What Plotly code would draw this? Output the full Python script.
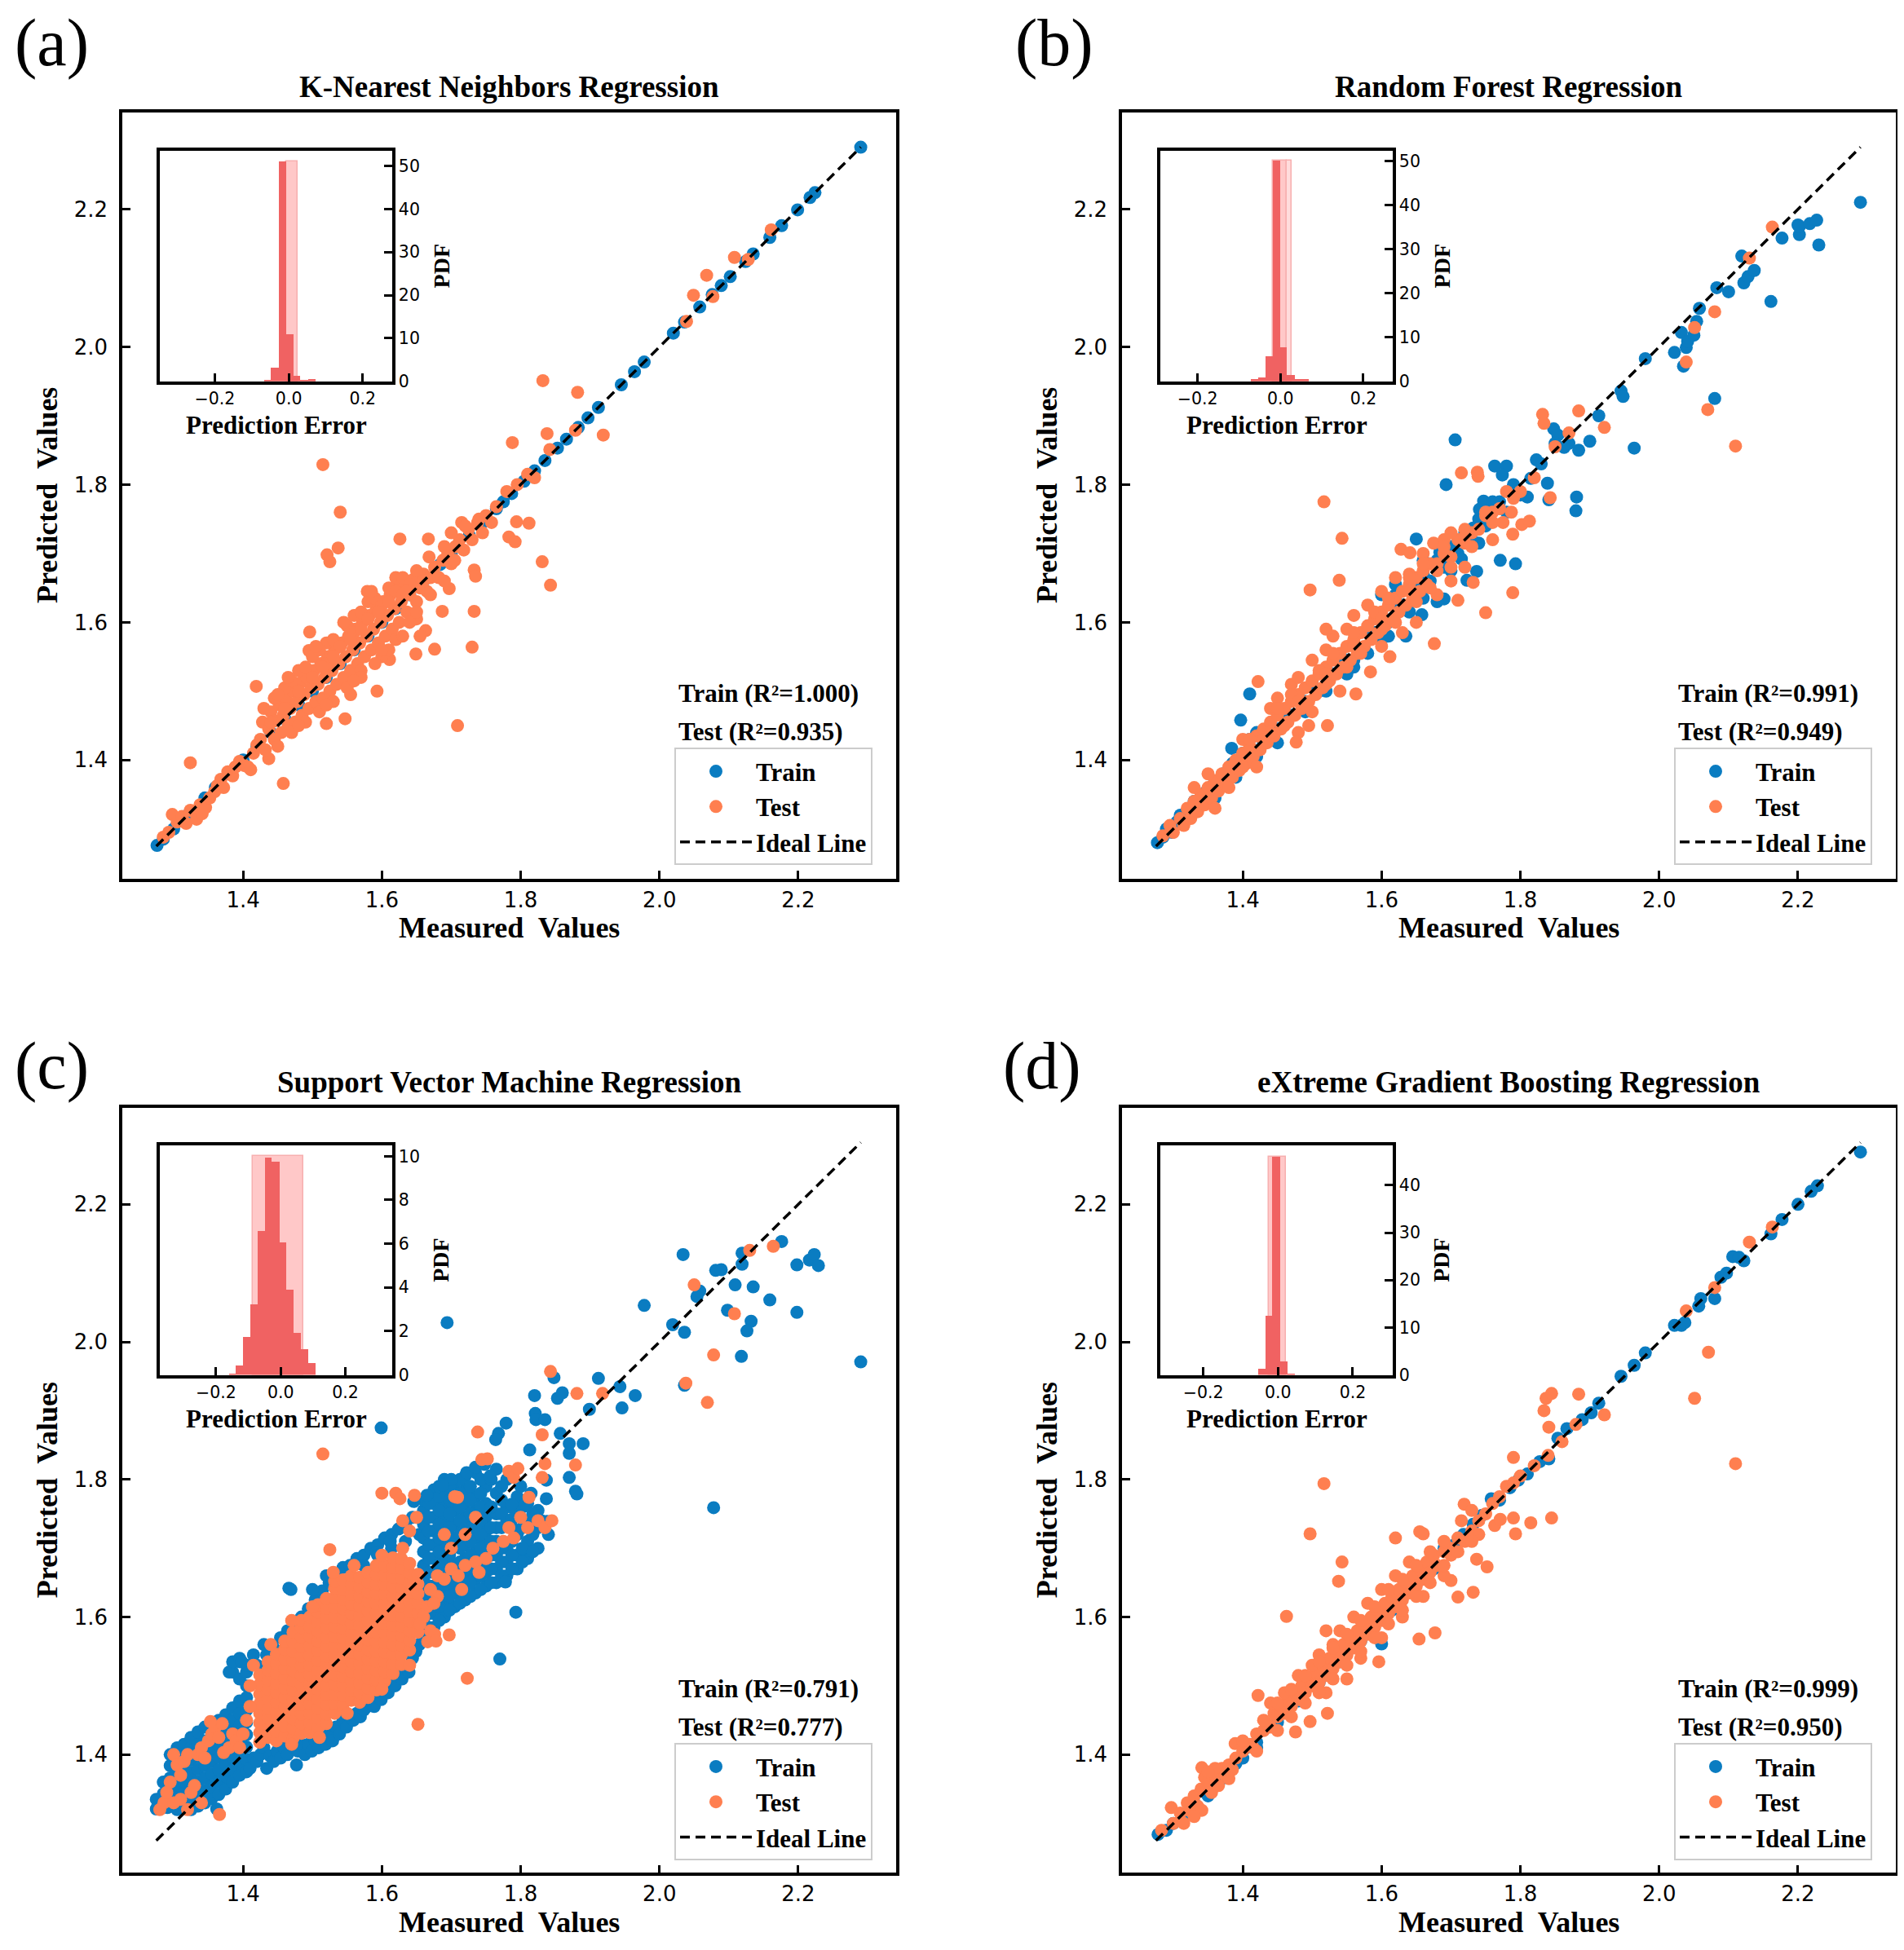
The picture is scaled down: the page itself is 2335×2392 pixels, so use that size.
import plotly.graph_objects as go

W, H = 2335, 2392

# ---------------- data: (measured, predicted) ----------------
knn_train_points = [(1.276,1.276),(1.285,1.285),(1.30,1.30),(1.32,1.32),(1.345,1.345),(1.36,1.36),(1.38,1.38),(1.40,1.40),
    (1.42,1.42),(1.44,1.44),(1.46,1.46),(1.48,1.48),(1.50,1.50),(1.52,1.52),(1.54,1.54),(1.56,1.56),(1.58,1.58),(1.60,1.60),
    (1.62,1.62),(1.64,1.64),(1.66,1.66),(1.684,1.684),(1.70,1.70),(1.726,1.726),(1.743,1.743),(1.765,1.765),(1.775,1.775),
    (1.787,1.787),(1.805,1.805),(1.82,1.82),(1.835,1.835),(1.853,1.853),(1.866,1.866),(1.883,1.883),(1.897,1.897),(1.912,1.912),
    (1.945,1.945),(1.964,1.964),(1.978,1.978),(2.02,2.02),(2.036,2.036),(2.058,2.058),(2.076,2.076),(2.089,2.089),(2.102,2.102),
    (2.124,2.124),(2.135,2.135),(2.159,2.159),(2.176,2.176),(2.199,2.199),(2.217,2.217),(2.224,2.224),(2.29,2.29)]

knn_test_points = [(1.285,1.288),(1.293,1.295),(1.298,1.321),(1.305,1.31),(1.312,1.318),(1.318,1.308),(1.324,1.327),(1.333,1.314),
    (1.338,1.335),(1.341,1.322),(1.346,1.331),(1.352,1.345),(1.359,1.354),(1.363,1.363),(1.368,1.372),(1.372,1.36),(1.378,1.383),
    (1.385,1.377),(1.389,1.39),(1.395,1.398),(1.402,1.392),(1.407,1.39),(1.411,1.386),(1.415,1.41),(1.42,1.422),(1.324,1.396),
    (1.437,1.402),(1.458,1.366),(1.419,1.507),
    (1.425,1.43),(1.428,1.455),(1.432,1.415),(1.437,1.445),(1.44,1.47),(1.445,1.43),(1.447,1.457),(1.452,1.48),(1.455,1.44),
    (1.458,1.465),(1.462,1.49),(1.465,1.45),(1.468,1.475),(1.472,1.50),(1.475,1.455),(1.478,1.485),(1.482,1.512),(1.485,1.465),
    (1.488,1.495),(1.492,1.52),(1.495,1.475),(1.498,1.505),(1.502,1.53),(1.505,1.485),(1.508,1.51),(1.512,1.54),(1.515,1.49),
    (1.518,1.52),(1.522,1.55),(1.525,1.50),(1.528,1.53),(1.532,1.56),(1.535,1.51),(1.538,1.54),(1.542,1.57),(1.545,1.52),
    (1.548,1.55),(1.552,1.58),(1.555,1.53),(1.558,1.56),(1.562,1.59),(1.565,1.54),(1.568,1.57),(1.572,1.60),(1.575,1.55),
    (1.578,1.58),(1.582,1.61),(1.585,1.56),(1.588,1.59),(1.592,1.62),(1.595,1.57),(1.598,1.60),(1.602,1.63),(1.605,1.58),
    (1.608,1.61),(1.612,1.64),(1.615,1.59),(1.618,1.62),(1.622,1.65),(1.625,1.60),(1.628,1.63),(1.632,1.655),(1.636,1.615),
    (1.64,1.64),(1.645,1.662),(1.65,1.63),(1.655,1.65),(1.66,1.67),(1.665,1.645),(1.67,1.665),(1.676,1.68),(1.682,1.665),
    (1.688,1.69),(1.695,1.70),(1.70,1.685),(1.706,1.71),(1.712,1.72),(1.718,1.705),(1.725,1.735),(1.73,1.72),(1.738,1.745),
    (1.745,1.73),(1.75,1.755),(1.758,1.745),(1.765,1.768),(1.78,1.79),(1.795,1.80),(1.81,1.815),(1.82,1.81),
    (1.496,1.586),(1.495,1.559),(1.579,1.645),(1.547,1.46),(1.52,1.453),(1.593,1.50),(1.611,1.546),(1.649,1.554),(1.663,1.588),
    (1.676,1.561),(1.687,1.616),(1.697,1.649),(1.733,1.616),(1.73,1.564),(1.733,1.676),(1.735,1.667),(1.709,1.45),(1.626,1.721),
    (1.667,1.721),(1.515,1.829),(1.54,1.76),(1.537,1.708),(1.521,1.698),(1.525,1.688),(1.783,1.724),(1.792,1.717),(1.794,1.746),
    (1.812,1.744),(1.831,1.688),(1.843,1.654),(1.788,1.861),(1.832,1.951),(1.882,1.934),(1.838,1.874),(1.919,1.872),(1.842,1.851),
    (1.879,1.879),(2.049,2.075),(2.068,2.104),(2.108,2.13),(2.077,2.073),(2.039,2.037),(2.161,2.17),(2.128,2.127),
    (1.70,1.73),(1.715,1.745),(1.72,1.74),(1.74,1.75),(1.705,1.69),(1.69,1.71),(1.668,1.695),(1.65,1.605),(1.62,1.575),
    (1.60,1.55),(1.57,1.53),(1.555,1.495),(1.58,1.63),(1.56,1.61),(1.52,1.57),(1.50,1.55),(1.48,1.53),(1.46,1.505),(1.445,1.49),
    (1.64,1.60),(1.655,1.58),(1.62,1.665),
    (1.43,1.475),(1.45,1.495),(1.47,1.515),(1.49,1.535),(1.51,1.56),(1.53,1.575),(1.55,1.595),(1.57,1.615),(1.59,1.635),
    (1.61,1.65),(1.63,1.665),(1.65,1.675),(1.465,1.52),(1.505,1.565),(1.545,1.60),(1.585,1.645),
    (1.45,1.42),(1.47,1.44),(1.49,1.455),(1.51,1.47),(1.53,1.485),(1.55,1.505),(1.57,1.52),(1.59,1.54),(1.61,1.56),
    (1.63,1.58),(1.65,1.615),(1.67,1.64),(1.69,1.66),(1.48,1.45),(1.52,1.48),(1.56,1.515),(1.60,1.56),
    (1.44,1.455),(1.46,1.475),(1.48,1.50),(1.50,1.52),(1.52,1.54),(1.54,1.565),(1.56,1.585),(1.58,1.605),(1.60,1.625),
    (1.62,1.645),(1.64,1.655),(1.66,1.66),(1.53,1.55),(1.57,1.59),(1.61,1.63),(1.63,1.64),(1.515,1.535),(1.555,1.575),
    (1.595,1.615),(1.635,1.645)]

rf_train_points = [(1.277,1.28),(1.285,1.288),(1.29,1.30),(1.298,1.295),(1.305,1.31),(1.31,1.32),(1.318,1.315),(1.325,1.33),
    (1.33,1.34),(1.338,1.335),(1.345,1.352),(1.35,1.345),(1.358,1.365),(1.365,1.36),(1.372,1.38),(1.38,1.375),(1.385,1.395),
    (1.392,1.385),(1.40,1.41),(1.405,1.40),(1.41,1.43),(1.415,1.415),(1.42,1.44),(1.43,1.425),(1.44,1.45),(1.45,1.445),
    (1.46,1.47),(1.47,1.465),(1.48,1.49),(1.49,1.485),(1.50,1.51),(1.51,1.50),(1.52,1.53),(1.53,1.525),(1.54,1.55),(1.55,1.545),
    (1.56,1.57),(1.57,1.56),(1.58,1.59),(1.59,1.585),(1.60,1.61),(1.61,1.60),(1.62,1.63),(1.63,1.625),(1.64,1.65),(1.65,1.64),
    (1.66,1.67),(1.67,1.66),(1.68,1.69),(1.69,1.68),(1.70,1.71),(1.71,1.70),(1.72,1.73),(1.73,1.72),(1.74,1.75),(1.75,1.74),
    (1.76,1.765),(1.77,1.775),
    (1.36,1.345),(1.39,1.375),(1.42,1.405),(1.41,1.496),(1.397,1.458),(1.384,1.417),(1.45,1.425),(1.49,1.47),(1.55,1.525),
    (1.56,1.535),(1.58,1.555),(1.61,1.58),(1.62,1.655),(1.635,1.58),(1.658,1.611),(1.65,1.721),(1.66,1.69),(1.684,1.702),
    (1.69,1.634),(1.693,1.80),(1.706,1.865),(1.715,1.692),(1.723,1.661),(1.737,1.674),(1.732,1.737),(1.741,1.764),(1.747,1.776),
    (1.763,1.827),(1.78,1.827),(1.774,1.814),(1.771,1.69),(1.793,1.685),(1.81,1.782),(1.815,1.809),(1.823,1.836),(1.839,1.802),
    (1.841,1.778),(1.848,1.881),(1.854,1.872),(1.863,1.854),(1.884,1.85),(1.90,1.863),(1.881,1.782),(1.88,1.762),(1.913,1.90),
    (1.945,1.936),(1.948,1.928),(1.964,1.853),(1.98,1.983),(2.022,1.992),(2.032,2.021),(2.035,1.972),(2.039,1.999),(2.041,2.008),
    (2.05,2.017),(2.054,2.037),(2.058,2.056),(2.08,1.925),(2.083,2.086),(2.10,2.08),(2.119,2.132),(2.122,2.093),(2.128,2.102),
    (2.137,2.111),(2.161,2.066),(2.177,2.158),(2.20,2.177),(2.202,2.163),(2.202,2.175),(2.217,2.179),(2.227,2.184),(2.23,2.148),
    (2.29,2.21),(1.60,1.64),(1.62,1.64),(1.655,1.655),(1.68,1.63),(1.83,1.83),(1.85,1.86),(1.87,1.86),(1.79,1.80),(1.80,1.785),
    (1.76,1.775),(1.60,1.575),(1.64,1.615),(1.66,1.635),(1.70,1.675),(1.74,1.715),(1.78,1.76),(1.56,1.545),(1.52,1.50)]

rf_test_points = [(1.285,1.29),(1.295,1.305),(1.30,1.295),(1.31,1.315),(1.315,1.305),(1.32,1.33),(1.325,1.315),(1.33,1.34),
    (1.335,1.325),(1.34,1.35),(1.345,1.335),(1.35,1.36),(1.355,1.345),(1.36,1.37),(1.365,1.355),(1.37,1.38),(1.375,1.365),
    (1.38,1.39),(1.385,1.375),(1.39,1.40),(1.395,1.385),(1.40,1.41),(1.405,1.395),(1.41,1.42),(1.415,1.405),(1.42,1.435),
    (1.425,1.415),(1.43,1.445),(1.435,1.425),(1.44,1.455),(1.445,1.435),(1.45,1.465),(1.455,1.445),(1.46,1.475),(1.465,1.455),
    (1.47,1.485),(1.475,1.465),(1.48,1.495),(1.485,1.475),(1.49,1.505),(1.495,1.485),(1.50,1.515),(1.505,1.495),(1.51,1.525),
    (1.515,1.505),(1.52,1.535),(1.525,1.515),(1.53,1.545),(1.535,1.525),(1.54,1.555),(1.545,1.535),(1.55,1.565),(1.555,1.545),
    (1.56,1.575),(1.565,1.555),(1.57,1.585),(1.575,1.565),(1.58,1.595),(1.585,1.575),(1.59,1.605),(1.595,1.585),(1.60,1.615),
    (1.605,1.595),(1.61,1.625),(1.615,1.605),(1.62,1.635),(1.625,1.615),(1.63,1.645),(1.635,1.625),(1.64,1.655),(1.645,1.635),
    (1.65,1.665),(1.655,1.645),(1.66,1.675),(1.665,1.655),(1.67,1.685),(1.68,1.675),(1.69,1.70),(1.70,1.695),(1.71,1.72),
    (1.72,1.715),(1.73,1.73),(1.74,1.735),(1.75,1.755),(1.76,1.76),(1.77,1.765),(1.78,1.79),(1.79,1.78),
    (1.45,1.49),(1.44,1.475),(1.422,1.514),(1.47,1.51),(1.48,1.52),(1.50,1.545),(1.52,1.56),(1.53,1.58),(1.52,1.59),(1.55,1.59),
    (1.56,1.61),(1.58,1.625),(1.60,1.645),(1.62,1.665),(1.628,1.706),(1.641,1.701),(1.64,1.67),(1.66,1.70),(1.675,1.715),
    (1.69,1.72),(1.70,1.73),(1.715,1.817),(1.738,1.818),(1.739,1.812),(1.48,1.44),(1.477,1.426),(1.495,1.45),(1.522,1.45),
    (1.50,1.47),(1.54,1.50),(1.563,1.496),(1.584,1.528),(1.60,1.565),(1.612,1.55),(1.63,1.585),(1.65,1.60),(1.676,1.569),
    (1.68,1.64),(1.70,1.66),(1.71,1.632),(1.732,1.658),(1.75,1.614),(1.789,1.643),(1.72,1.68),(1.76,1.72),(1.775,1.745),
    (1.789,1.728),(1.802,1.742),(1.787,1.76),(1.80,1.79),(1.813,1.747),(1.843,1.781),(1.82,1.81),(1.832,1.902),(1.834,1.889),
    (1.884,1.907),(1.921,1.883),(1.87,1.875),(1.85,1.855),(1.517,1.775),(1.543,1.722),(1.497,1.647),(1.539,1.661),(2.051,2.028),
    (2.039,1.978),(2.08,2.051),(2.07,1.909),(2.11,1.856),(2.13,2.129),(2.163,2.174),(1.33,1.36),(1.35,1.38),(1.36,1.33),
    (1.38,1.36),(1.40,1.43),(1.42,1.39),
    (1.40,1.39),(1.41,1.43),(1.43,1.43),(1.45,1.475),(1.46,1.45),(1.47,1.495),(1.49,1.48),(1.51,1.53),(1.52,1.51),(1.53,1.555),
    (1.55,1.535),(1.56,1.585),(1.57,1.555),(1.59,1.615),(1.60,1.59),(1.61,1.635),(1.62,1.60),(1.64,1.665),(1.65,1.63),
    (1.66,1.685),(1.67,1.65),(1.69,1.71),(1.70,1.68),(1.72,1.735),(1.73,1.71),(1.75,1.76),(1.76,1.745),(1.44,1.44),(1.48,1.485),
    (1.52,1.525),(1.56,1.565),(1.60,1.605),(1.64,1.645),(1.68,1.685),(1.72,1.725)]

svm_train_points = [(1.275,1.321),(1.275,1.335),
    (1.285,1.325),(1.285,1.343),(1.285,1.36),
    (1.295,1.33),(1.295,1.348),(1.295,1.366),(1.295,1.384),(1.295,1.40),
    (1.305,1.32),(1.305,1.338),(1.305,1.356),(1.305,1.374),(1.305,1.392),(1.305,1.41),
    (1.315,1.325),(1.315,1.343),(1.315,1.361),(1.315,1.379),(1.315,1.397),(1.315,1.415),
    (1.325,1.32),(1.325,1.338),(1.325,1.356),(1.325,1.374),(1.325,1.392),(1.325,1.41),(1.325,1.425),
    (1.335,1.325),(1.335,1.343),(1.335,1.361),(1.335,1.379),(1.335,1.397),(1.335,1.415),(1.335,1.433),
    (1.345,1.33),(1.345,1.348),(1.345,1.366),(1.345,1.384),(1.345,1.402),(1.345,1.42),(1.345,1.44),
    (1.355,1.336),(1.355,1.354),(1.355,1.372),(1.355,1.39),(1.355,1.408),(1.355,1.426),(1.355,1.444),
    (1.365,1.342),(1.365,1.36),(1.365,1.378),(1.365,1.396),(1.365,1.414),(1.365,1.432),(1.365,1.45),
    (1.375,1.35),(1.375,1.368),(1.375,1.386),(1.375,1.404),(1.375,1.422),(1.375,1.44),(1.375,1.458),
    (1.385,1.36),(1.385,1.378),(1.385,1.396),(1.385,1.414),(1.385,1.432),(1.385,1.45),(1.385,1.468),(1.385,1.52),
    (1.395,1.37),(1.395,1.388),(1.395,1.406),(1.395,1.424),(1.395,1.442),(1.395,1.46),(1.395,1.478),(1.395,1.51),(1.395,1.535),
    (1.405,1.375),(1.405,1.393),(1.405,1.411),(1.405,1.429),(1.405,1.447),(1.405,1.465),(1.405,1.483),(1.405,1.50),(1.405,1.52),
    (1.38,1.52),(1.385,1.535),(1.395,1.54),(1.405,1.53),
    (1.434,1.545),(1.444,1.555),(1.454,1.57),(1.464,1.58),(1.474,1.59),(1.484,1.60),(1.494,1.612),(1.504,1.625),(1.514,1.638),
    (1.524,1.65),(1.534,1.662),(1.544,1.672),(1.554,1.675),(1.564,1.685),(1.574,1.69),(1.584,1.70),(1.594,1.705),(1.604,1.715),
    (1.614,1.72),(1.624,1.728),(1.634,1.735),(1.644,1.745),(1.592,1.694),(1.612,1.71),(1.574,1.675),(1.594,1.69),(1.614,1.70),
    (1.634,1.71),(1.654,1.72),(1.42,1.53),(1.415,1.545),(1.43,1.56),(1.50,1.64),(1.52,1.66),
    (1.41,1.38),(1.415,1.395),(1.42,1.39),(1.425,1.40),(1.43,1.41),
    (1.434,1.38),(1.439,1.398),(1.444,1.39),(1.449,1.405),(1.454,1.395),(1.459,1.41),(1.464,1.40),(1.469,1.415),(1.477,1.385),
    (1.479,1.405),(1.484,1.415),(1.489,1.40),(1.494,1.415),(1.499,1.405),(1.504,1.42),(1.509,1.41),(1.514,1.425),(1.519,1.415),
    (1.524,1.43),(1.529,1.42),(1.534,1.44),(1.539,1.43),(1.544,1.45),(1.549,1.44),(1.554,1.455),(1.559,1.45),(1.564,1.46),
    (1.569,1.455),(1.574,1.465),(1.579,1.47),(1.584,1.475),(1.589,1.47),(1.594,1.485),(1.599,1.48),(1.604,1.495),(1.609,1.49),
    (1.614,1.505),(1.619,1.50),(1.624,1.515),(1.629,1.51),(1.634,1.525),(1.639,1.52),(1.644,1.54),(1.649,1.55),(1.654,1.56),
    (1.66,1.575),(1.66,1.595),(1.66,1.615),(1.66,1.635),(1.66,1.655),(1.66,1.675),(1.66,1.695),(1.66,1.715),(1.66,1.735),(1.66,1.755),(1.66,1.77),
    (1.675,1.585),(1.675,1.605),(1.675,1.625),(1.675,1.645),(1.675,1.665),(1.675,1.685),(1.675,1.705),(1.675,1.725),(1.675,1.745),(1.675,1.765),(1.675,1.785),
    (1.69,1.60),(1.69,1.62),(1.69,1.64),(1.69,1.66),(1.69,1.68),(1.69,1.70),(1.69,1.72),(1.69,1.74),(1.69,1.76),(1.69,1.78),(1.69,1.80),
    (1.705,1.615),(1.705,1.635),(1.705,1.655),(1.705,1.675),(1.705,1.715),(1.705,1.735),(1.705,1.755),(1.705,1.775),(1.705,1.795),
    (1.72,1.625),(1.72,1.645),(1.72,1.665),(1.72,1.685),(1.72,1.705),(1.72,1.725),(1.72,1.745),(1.72,1.765),(1.72,1.785),(1.72,1.805),
    (1.735,1.635),(1.735,1.655),(1.735,1.675),(1.735,1.695),(1.735,1.715),(1.735,1.735),(1.735,1.755),(1.735,1.775),(1.735,1.81),
    (1.75,1.645),(1.75,1.665),(1.75,1.705),(1.75,1.725),(1.75,1.745),(1.75,1.765),(1.75,1.79),
    (1.765,1.65),(1.765,1.67),(1.765,1.69),(1.765,1.71),(1.765,1.73),(1.765,1.75),(1.765,1.78),(1.765,1.815),
    (1.78,1.66),(1.78,1.68),(1.78,1.70),(1.78,1.74),(1.78,1.76),(1.78,1.80),
    (1.795,1.67),(1.795,1.69),(1.795,1.72),(1.795,1.75),(1.795,1.775),
    (1.81,1.685),(1.81,1.71),(1.81,1.74),(1.81,1.765),
    (1.825,1.70),(1.825,1.73),(1.825,1.755),
    (1.6675,1.585),(1.6675,1.605),(1.6675,1.625),(1.6675,1.645),(1.6675,1.665),(1.6675,1.685),(1.6675,1.705),(1.6675,1.725),(1.6675,1.745),(1.6675,1.765),
    (1.6825,1.595),(1.6825,1.615),(1.6825,1.635),(1.6825,1.655),(1.6825,1.675),(1.6825,1.695),(1.6825,1.715),(1.6825,1.735),(1.6825,1.755),(1.6825,1.775),(1.6825,1.79),
    (1.6975,1.61),(1.6975,1.63),(1.6975,1.65),(1.6975,1.67),(1.6975,1.69),(1.6975,1.71),(1.6975,1.73),(1.6975,1.75),(1.6975,1.77),(1.6975,1.79),
    (1.7125,1.62),(1.7125,1.64),(1.7125,1.66),(1.7125,1.68),(1.7125,1.70),(1.7125,1.72),(1.7125,1.74),(1.7125,1.76),(1.7125,1.78),(1.7125,1.80),
    (1.7275,1.63),(1.7275,1.65),(1.7275,1.67),(1.7275,1.69),(1.7275,1.71),(1.7275,1.73),(1.7275,1.75),(1.7275,1.77),(1.7275,1.79),
    (1.7425,1.64),(1.7425,1.66),(1.7425,1.68),(1.7425,1.70),(1.7425,1.72),(1.7425,1.74),(1.7425,1.76),(1.7425,1.78),(1.7425,1.80),
    (1.7575,1.65),(1.7575,1.67),(1.7575,1.69),(1.7575,1.71),(1.7575,1.73),(1.7575,1.76),(1.7575,1.80),
    (1.7725,1.66),(1.7725,1.68),(1.7725,1.70),(1.7725,1.73),(1.7725,1.75),(1.7725,1.77),(1.7725,1.79),
    (1.7875,1.67),(1.7875,1.69),(1.7875,1.71),(1.7875,1.73),(1.7875,1.76),
    (1.8025,1.68),(1.8025,1.70),(1.8025,1.73),(1.8025,1.76),
    (1.8175,1.695),(1.8175,1.72),(1.8175,1.75),
    (1.694,2.028),(1.599,1.875),(2.034,2.127),(1.978,2.053),(2.019,2.025),(2.036,2.014),(2.054,2.066),(2.058,2.074),
    (2.081,2.104),(2.089,2.105),(2.119,2.129),(2.119,2.113),(2.109,2.083),(2.135,2.080),(2.098,2.046),(2.132,2.030),
    (2.126,2.016),(2.118,1.979),(2.159,2.061),(2.176,2.146),(2.198,2.112),(2.198,2.043),(2.216,2.119),(2.223,2.127),
    (2.229,2.111),(2.290,1.971),(2.078,1.759),(2.036,1.937),(1.912,1.947),(1.943,1.935),(1.946,1.904),(1.965,1.922),
    (1.899,1.902),(1.820,1.922),(1.821,1.896),(1.822,1.887),(1.848,1.948),(1.853,1.918),(1.860,1.926),(1.835,1.887),
    (1.857,1.867),(1.870,1.852),(1.890,1.852),(1.870,1.838),(1.879,1.783),(1.881,1.779),(1.870,1.803),(1.837,1.799),
    (1.813,1.843),(1.837,1.772),(1.838,1.739),(1.793,1.607),(1.770,1.539),(1.778,1.651),(1.779,1.882),(1.768,1.867),
    (1.764,1.858),(1.787,1.764),(1.787,1.742),(1.70,1.80),(1.722,1.81),(1.735,1.818),(1.748,1.822),(1.756,1.805),
    (1.687,1.792),(1.665,1.777),(1.646,1.768),(1.466,1.642),(1.469,1.640),(1.398,1.535),(1.362,1.321),
    (1.291,1.323),(1.84,1.72),(1.83,1.74),(1.815,1.78),(1.80,1.79)]

svm_test_points = [
    (1.424,1.418),(1.424,1.432),(1.424,1.446),(1.424,1.46),(1.424,1.474),(1.424,1.488),(1.424,1.502),(1.424,1.516),
    (1.436,1.425),(1.436,1.439),(1.436,1.453),(1.436,1.467),(1.436,1.481),(1.436,1.495),(1.436,1.509),(1.436,1.523),(1.436,1.535),
    (1.448,1.42),(1.448,1.434),(1.448,1.448),(1.448,1.462),(1.448,1.476),(1.448,1.49),(1.448,1.504),(1.448,1.518),(1.448,1.532),(1.448,1.546),
    (1.46,1.427),(1.46,1.441),(1.46,1.455),(1.46,1.469),(1.46,1.483),(1.46,1.497),(1.46,1.511),(1.46,1.525),(1.46,1.539),(1.46,1.553),(1.46,1.565),
    (1.472,1.424),(1.472,1.438),(1.472,1.452),(1.472,1.466),(1.472,1.48),(1.472,1.494),(1.472,1.508),(1.472,1.522),(1.472,1.536),(1.472,1.55),(1.472,1.564),(1.472,1.578),
    (1.484,1.431),(1.484,1.445),(1.484,1.459),(1.484,1.473),(1.484,1.487),(1.484,1.501),(1.484,1.515),(1.484,1.529),(1.484,1.543),(1.484,1.557),(1.484,1.571),(1.484,1.585),(1.484,1.595),
    (1.496,1.432),(1.496,1.446),(1.496,1.46),(1.496,1.474),(1.496,1.488),(1.496,1.502),(1.496,1.516),(1.496,1.53),(1.496,1.544),(1.496,1.558),(1.496,1.572),(1.496,1.586),(1.496,1.60),
    (1.508,1.439),(1.508,1.453),(1.508,1.467),(1.508,1.481),(1.508,1.495),(1.508,1.509),(1.508,1.523),(1.508,1.537),(1.508,1.551),(1.508,1.565),(1.508,1.579),(1.508,1.593),(1.508,1.607),(1.508,1.618),
    (1.52,1.445),(1.52,1.459),(1.52,1.473),(1.52,1.487),(1.52,1.501),(1.52,1.515),(1.52,1.529),(1.52,1.543),(1.52,1.557),(1.52,1.571),(1.52,1.585),(1.52,1.599),(1.52,1.613),(1.52,1.627),
    (1.532,1.46),(1.532,1.474),(1.532,1.488),(1.532,1.502),(1.532,1.516),(1.532,1.53),(1.532,1.544),(1.532,1.558),(1.532,1.572),(1.532,1.586),(1.532,1.60),(1.532,1.614),(1.532,1.628),(1.532,1.642),(1.532,1.652),
    (1.544,1.472),(1.544,1.486),(1.544,1.50),(1.544,1.514),(1.544,1.528),(1.544,1.542),(1.544,1.556),(1.544,1.57),(1.544,1.584),(1.544,1.598),(1.544,1.612),(1.544,1.626),(1.544,1.64),(1.544,1.654),
    (1.556,1.479),(1.556,1.493),(1.556,1.507),(1.556,1.521),(1.556,1.535),(1.556,1.549),(1.556,1.563),(1.556,1.577),(1.556,1.591),(1.556,1.605),(1.556,1.619),(1.556,1.633),(1.556,1.647),(1.556,1.66),
    (1.568,1.476),(1.568,1.49),(1.568,1.504),(1.568,1.518),(1.568,1.532),(1.568,1.546),(1.568,1.56),(1.568,1.574),(1.568,1.588),(1.568,1.602),(1.568,1.616),(1.568,1.63),(1.568,1.644),(1.568,1.658),
    (1.58,1.483),(1.58,1.497),(1.58,1.511),(1.58,1.525),(1.58,1.539),(1.58,1.553),(1.58,1.567),(1.58,1.581),(1.58,1.595),(1.58,1.609),(1.58,1.623),(1.58,1.637),(1.58,1.651),(1.58,1.665),
    (1.592,1.494),(1.592,1.508),(1.592,1.522),(1.592,1.536),(1.592,1.55),(1.592,1.564),(1.592,1.578),(1.592,1.592),(1.592,1.606),(1.592,1.62),(1.592,1.634),(1.592,1.648),(1.592,1.662),(1.592,1.675),
    (1.604,1.507),(1.604,1.521),(1.604,1.535),(1.604,1.549),(1.604,1.563),(1.604,1.577),(1.604,1.591),(1.604,1.605),(1.604,1.619),(1.604,1.633),(1.604,1.647),(1.604,1.661),(1.604,1.675),
    (1.616,1.518),(1.616,1.532),(1.616,1.546),(1.616,1.56),(1.616,1.574),(1.616,1.588),(1.616,1.602),(1.616,1.616),(1.616,1.63),(1.616,1.644),(1.616,1.658),(1.616,1.672),(1.616,1.686),
    (1.628,1.531),(1.628,1.545),(1.628,1.559),(1.628,1.573),(1.628,1.587),(1.628,1.601),(1.628,1.615),(1.628,1.629),(1.628,1.643),(1.628,1.657),(1.628,1.671),(1.628,1.685),
    (1.64,1.552),(1.64,1.566),(1.64,1.58),(1.64,1.594),(1.64,1.608),(1.64,1.622),(1.64,1.636),(1.64,1.65),(1.64,1.664),(1.64,1.678),
    (1.652,1.578),(1.652,1.592),(1.652,1.606),(1.652,1.62),(1.652,1.634),(1.652,1.648),(1.652,1.662),
    (1.41,1.50),(1.415,1.53),(1.44,1.56),(1.47,1.595),(1.50,1.615),(1.53,1.665),(1.56,1.675),(1.60,1.69),(1.63,1.70),
    (1.47,1.415),(1.51,1.425),(1.55,1.46),(1.60,1.495),(1.64,1.53),(1.67,1.58),(1.665,1.615),(1.68,1.63),
    (1.286,1.33),(1.29,1.345),(1.295,1.36),(1.30,1.40),(1.305,1.385),(1.31,1.37),(1.315,1.39),(1.32,1.40),(1.30,1.33),
    (1.31,1.335),(1.28,1.32),(1.325,1.345),(1.33,1.355),(1.335,1.40),(1.34,1.41),(1.345,1.395),(1.35,1.42),(1.355,1.43),
    (1.36,1.44),(1.365,1.425),(1.37,1.445),(1.372,1.403),(1.38,1.41),(1.385,1.43),(1.39,1.42),(1.395,1.41),(1.353,1.448),
    (1.366,1.313),(1.34,1.33),(1.32,1.32),(1.40,1.43),(1.405,1.45),(1.41,1.47),
    (1.66,1.60),(1.675,1.62),(1.67,1.64),(1.68,1.66),(1.69,1.655),(1.70,1.67),(1.71,1.66),(1.72,1.675),(1.735,1.68),
    (1.74,1.665),(1.75,1.685),(1.715,1.64),(1.76,1.70),(1.775,1.71),(1.783,1.73),(1.79,1.715),(1.80,1.745),(1.81,1.73),
    (1.825,1.74),(1.64,1.725),(1.65,1.745),(1.63,1.74),(1.705,1.775),(1.744,1.829),(1.783,1.812),(1.62,1.78),(1.60,1.78),
    (1.72,1.72),(1.735,1.745),(1.70,1.70),(1.69,1.72),(1.676,1.575),(1.666,1.564),(1.655,1.59),
    (1.515,1.837),(1.525,1.698),(1.843,1.957),(1.881,1.925),(1.918,1.925),(2.05,2.083),(2.13,2.133),(2.164,2.139),(2.108,2.041),
    (2.078,1.981),(2.038,1.94),(2.069,1.912),(1.738,1.869),(1.752,1.83),(1.831,1.865),(1.835,1.823),(1.831,1.803),
    (1.879,1.821),(1.812,1.774),(1.79,1.803),(1.796,1.816),(1.626,1.772),(1.647,1.777),(1.709,1.774),(1.723,1.511),
    (1.652,1.444),(1.697,1.574),(1.678,1.565),(1.835,1.73),(1.845,1.74)]

xgb_train_points = [(1.278,1.284),(1.29,1.29),(1.30,1.30),(1.315,1.312),(1.33,1.33),(1.345,1.348),(1.36,1.357),(1.375,1.378),
    (1.39,1.387),(1.405,1.41),(1.42,1.418),(1.435,1.44),(1.45,1.447),(1.465,1.47),(1.48,1.478),(1.495,1.50),(1.51,1.505),
    (1.525,1.53),(1.54,1.535),(1.555,1.56),(1.57,1.565),(1.585,1.59),(1.60,1.561),(1.60,1.60),(1.615,1.61),(1.63,1.632),
    (1.645,1.64),(1.66,1.662),(1.675,1.67),(1.69,1.70),(1.693,1.702),(1.705,1.705),(1.718,1.72),(1.732,1.735),(1.745,1.748),
    (1.758,1.772),(1.77,1.77),(1.785,1.788),(1.797,1.799),(1.81,1.808),(1.828,1.826),(1.841,1.83),(1.854,1.86),(1.867,1.874),
    (1.889,1.887),(1.902,1.897),(1.913,1.911),(1.945,1.95),(1.964,1.966),(1.98,1.984),(2.022,2.024),(2.032,2.024),(2.037,2.028),
    (2.057,2.052),(2.06,2.063),(2.08,2.063),(2.089,2.094),(2.097,2.10),(2.106,2.124),(2.115,2.123),(2.122,2.118),(2.161,2.157),
    (2.177,2.178),(2.20,2.20),(2.219,2.219),(2.228,2.227),(2.29,2.276),(1.35,1.34),(1.37,1.365),(1.40,1.395),(1.42,1.41)]

xgb_test_points = [(1.283,1.29),(1.297,1.323),(1.30,1.30),(1.31,1.315),(1.315,1.30),(1.32,1.33),(1.325,1.318),(1.33,1.34),
    (1.335,1.325),(1.341,1.319),(1.341,1.381),(1.345,1.367),(1.34,1.35),(1.35,1.36),(1.355,1.345),(1.36,1.37),(1.365,1.355),
    (1.37,1.38),(1.375,1.37),(1.38,1.385),(1.385,1.378),(1.389,1.416),(1.39,1.395),(1.40,1.405),(1.41,1.415),(1.415,1.41),
    (1.42,1.43),(1.422,1.486),(1.43,1.435),(1.435,1.445),(1.44,1.44),(1.445,1.46),(1.45,1.455),(1.455,1.47),(1.46,1.46),
    (1.465,1.48),(1.47,1.47),(1.475,1.49),(1.476,1.433),(1.48,1.48),(1.485,1.50),(1.49,1.49),(1.495,1.51),(1.497,1.448),
    (1.50,1.50),(1.505,1.52),(1.51,1.505),(1.515,1.53),(1.52,1.515),(1.522,1.46),(1.525,1.54),(1.53,1.525),(1.535,1.55),
    (1.54,1.535),(1.545,1.56),(1.55,1.545),(1.55,1.51),(1.555,1.57),(1.56,1.555),(1.565,1.58),(1.57,1.565),(1.575,1.59),
    (1.58,1.575),(1.585,1.60),(1.59,1.585),(1.595,1.61),(1.596,1.535),(1.60,1.595),(1.605,1.62),(1.61,1.605),(1.615,1.63),
    (1.62,1.615),(1.625,1.64),(1.63,1.625),(1.635,1.65),(1.64,1.635),(1.645,1.66),(1.65,1.645),(1.655,1.67),(1.66,1.655),
    (1.665,1.68),(1.67,1.665),(1.675,1.69),(1.68,1.675),(1.69,1.695),(1.70,1.69),(1.71,1.715),(1.72,1.71),(1.73,1.725),
    (1.74,1.74),(1.75,1.75),(1.76,1.765),(1.77,1.775),(1.78,1.79),(1.79,1.795),(1.80,1.805),
    (1.44,1.475),(1.46,1.49),(1.48,1.515),(1.50,1.53),(1.51,1.545),(1.53,1.56),(1.54,1.58),(1.52,1.58),(1.56,1.60),
    (1.58,1.62),(1.60,1.64),(1.62,1.66),(1.64,1.68),(1.655,1.724),(1.66,1.721),(1.62,1.715),(1.70,1.653),(1.71,1.629),
    (1.732,1.636),(1.737,1.684),(1.752,1.673),(1.677,1.577),(1.654,1.568),(1.52,1.49),(1.57,1.54),(1.60,1.57),(1.63,1.60),
    (1.66,1.63),(1.69,1.66),(1.70,1.70),(1.715,1.74),(1.719,1.764),(1.73,1.755),(1.74,1.72),(1.763,1.733),(1.771,1.742),
    (1.79,1.744),(1.793,1.721),(1.815,1.737),(1.845,1.744),(1.79,1.832),(1.517,1.794),(1.497,1.721),(1.543,1.68),
    (1.538,1.652),(1.463,1.601),(1.834,1.90),(1.837,1.918),(1.845,1.925),(1.841,1.876),(1.884,1.924),(1.921,1.894),
    (2.071,1.985),(2.051,1.918),(2.11,1.823),(2.039,2.045),(2.08,2.079),(2.13,2.145),(2.163,2.167),(1.82,1.82),
    (1.84,1.835),(1.86,1.855),(1.88,1.88),
    (1.43,1.45),(1.45,1.475),(1.47,1.495),(1.49,1.515),(1.51,1.535),(1.53,1.555),(1.55,1.575),(1.57,1.595),(1.59,1.615),
    (1.61,1.64),(1.63,1.655),(1.65,1.675),(1.67,1.695),(1.69,1.71),(1.45,1.435),(1.47,1.455),(1.49,1.475),(1.51,1.49),
    (1.53,1.51),(1.55,1.53),(1.57,1.55),(1.59,1.57),(1.61,1.59),(1.63,1.61),(1.65,1.63),(1.67,1.65),(1.69,1.675),(1.71,1.695),
    (1.73,1.71),(1.36,1.38),(1.38,1.365),(1.40,1.42),(1.42,1.405),(1.33,1.31),(1.35,1.375)]

ideal_line = [1.275, 2.29]

# prediction-error histograms: bin edges and PDF heights
knn_err_test_edges = [-0.066, -0.048, -0.026, -0.006, 0.013, 0.031, 0.052, 0.072]
knn_err_test_pdf = [0.15, 3.1, 51.0, 10.9, 1.3, 0.3, 0.4]
knn_err_train_edges = [-0.006, 0.024]
knn_err_train_pdf = [51.0]

rf_err_test_edges = [-0.072, -0.054, -0.037, -0.019, -0.001, 0.016, 0.035, 0.052, 0.069]
rf_err_test_pdf = [0.4, 0.9, 5.7, 50.0, 7.7, 1.35, 0.5, 0.5]
rf_err_train_edges = [-0.019, 0.016, 0.027]
rf_err_train_pdf = [50.0, 50.0]

svm_err_test_edges = [-0.160, -0.139, -0.116, -0.094, -0.071, -0.049, -0.028, -0.004, 0.018, 0.040, 0.063, 0.085, 0.107]
svm_err_test_pdf = [0.05, 0.43, 1.73, 3.22, 6.59, 9.95, 9.76, 6.07, 3.9, 1.92, 1.18, 0.56]
svm_err_train_edges = [-0.086, 0.070]
svm_err_train_pdf = [10.0]

xgb_err_test_edges = [-0.053, -0.034, -0.015, 0.005, 0.025, 0.045]
xgb_err_test_pdf = [1.37, 12.5, 46.0, 2.8, 0.3]
xgb_err_train_edges = [-0.024, 0.021]
xgb_err_train_pdf = [46.0]

titles = ["K-Nearest Neighbors Regression", "Random Forest Regression",
          "Support Vector Machine Regression", "eXtreme Gradient Boosting Regression"]
letters = ["(a)", "(b)", "(c)", "(d)"]
r2_train = ["1.000", "0.991", "0.791", "0.999"]
r2_test = ["0.935", "0.949", "0.777", "0.950"]
main_ticks = [1.4, 1.6, 1.8, 2.0, 2.2]
inset_xticks = [-0.2, 0.0, 0.2]
inset_yticks = [[0, 10, 20, 30, 40, 50], [0, 10, 20, 30, 40, 50], [0, 2, 4, 6, 8, 10], [0, 10, 20, 30, 40]]
inset_xranges = [[-0.349, 0.28], [-0.29, 0.271], [-0.374, 0.345], [-0.315, 0.307]]
inset_yranges = [[0, 53.5], [0, 52.3], [0, 10.5], [0, 48.4]]

# ---------------- layout geometry (pixels) ----------------
frames = [(142, 1091, 131, 1075), (1368, 2317, 131, 1075), (142, 1091, 1358, 2301), (1368, 2317, 1358, 2301)]
insets = [(188, 473, 178, 462), (1415, 1700, 178, 462), (188, 473, 1404, 1687), (1415, 1700, 1404, 1687)]
letter_pos = [(55, 45), (1285, 45), (55, 1306), (1270, 1306)]

BLUE = "#0A7CC1"
ORANGE = "#FF7F50"
DARK = "#F06262"
PINK = "#FFC8C8"
SERIF = "Liberation Serif"
SANS = "DejaVu Sans"


def fx(px):
    return px / W


def fy(py):
    return 1 - py / H


fig = go.Figure()

datasets = [
    (knn_train_points, knn_test_points, knn_err_test_edges, knn_err_test_pdf, knn_err_train_edges, knn_err_train_pdf),
    (rf_train_points, rf_test_points, rf_err_test_edges, rf_err_test_pdf, rf_err_train_edges, rf_err_train_pdf),
    (svm_train_points, svm_test_points, svm_err_test_edges, svm_err_test_pdf, svm_err_train_edges, svm_err_train_pdf),
    (xgb_train_points, xgb_test_points, xgb_err_test_edges, xgb_err_test_pdf, xgb_err_train_edges, xgb_err_train_pdf),
]

annotations = []
layout_axes = {}
legends = {}

for i, (tr, te, e_edges, e_pdf, t_edges, t_pdf) in enumerate(datasets):
    n = i + 1
    xa = "x" if n == 1 else f"x{n}"
    ya = "y" if n == 1 else f"y{n}"
    xi = f"x{n + 4}"
    yi = f"y{n + 4}"
    leg = "legend" if n == 1 else f"legend{n}"
    L, R, T, B = frames[i]
    il, ir, it, ib = insets[i]

    fig.add_trace(go.Scatter(x=[p[0] for p in tr], y=[p[1] for p in tr], mode="markers",
                             marker=dict(color=BLUE, size=16, line=dict(width=0)),
                             name="<b>Train</b>", xaxis=xa, yaxis=ya, legend=leg))
    fig.add_trace(go.Scatter(x=[p[0] for p in te], y=[p[1] for p in te], mode="markers",
                             marker=dict(color=ORANGE, size=16, line=dict(width=0)),
                             name="<b>Test</b>", xaxis=xa, yaxis=ya, legend=leg))
    fig.add_trace(go.Scatter(x=ideal_line, y=ideal_line, mode="lines",
                             line=dict(color="black", width=3.5, dash="12px,7px"),
                             name="<b>Ideal Line</b>", xaxis=xa, yaxis=ya, legend=leg))

    # inset histograms (train: light pink, test: red)
    tc = [(t_edges[k] + t_edges[k + 1]) / 2 for k in range(len(t_pdf))]
    tw = [t_edges[k + 1] - t_edges[k] for k in range(len(t_pdf))]
    pink_cols = [PINK, "#FFDCDC"] if len(t_pdf) > 1 else [PINK]
    fig.add_trace(go.Bar(x=tc, y=t_pdf, width=tw, marker=dict(color=pink_cols, line=dict(color="#F7AFAF", width=1.5)),
                         xaxis=xi, yaxis=yi, showlegend=False))
    ec = [(e_edges[k] + e_edges[k + 1]) / 2 for k in range(len(e_pdf))]
    ew = [e_edges[k + 1] - e_edges[k] for k in range(len(e_pdf))]
    fig.add_trace(go.Bar(x=ec, y=e_pdf, width=ew, marker=dict(color=DARK, line=dict(width=0)),
                         xaxis=xi, yaxis=yi, showlegend=False))

    main_common = dict(showgrid=False, zeroline=False, showline=True, linecolor="black", linewidth=3.5,
                       mirror=True, ticks="inside", ticklen=10, tickwidth=3, tickcolor="black",
                       tickvals=main_ticks, tickformat=".1f",
                       tickfont=dict(family=SANS, size=26, color="black"))
    kx = "xaxis" if n == 1 else f"xaxis{n}"
    ky = "yaxis" if n == 1 else f"yaxis{n}"
    layout_axes[kx] = dict(main_common, domain=[fx(L), fx(R)], range=[1.226, 2.341], anchor=ya)
    layout_axes[ky] = dict(main_common, domain=[fy(B), fy(T)], range=[1.228, 2.340], anchor=xa,
                           ticklabelstandoff=9)

    inset_common = dict(showgrid=False, zeroline=False, showline=True, linecolor="black", linewidth=3.5,
                        mirror=True, ticks="inside", ticklen=10, tickwidth=3, tickcolor="black",
                        tickfont=dict(family=SANS, size=20.5, color="black"))
    layout_axes[f"xaxis{n + 4}"] = dict(inset_common, domain=[fx(il), fx(ir)], range=inset_xranges[i],
                                        tickvals=inset_xticks, tickformat=".1f", anchor=yi)
    layout_axes[f"yaxis{n + 4}"] = dict(inset_common, domain=[fy(ib), fy(it)], range=inset_yranges[i],
                                        tickvals=inset_yticks[i], side="right", anchor=xi)

    legends[leg] = dict(x=fx(L + 677), y=fy(T + 783), xanchor="left", yanchor="top",
                        bgcolor="rgba(255,255,255,0.85)", bordercolor="#CCCCCC", borderwidth=2,
                        font=dict(family=SERIF, size=31, color="black"), itemwidth=88,
                        tracegroupgap=0)

    cx = (L + R) / 2
    annotations += [
        dict(text=letters[i], x=fx(letter_pos[i][0]), y=fy(letter_pos[i][1]), xref="paper", yref="paper",
             showarrow=False, xanchor="center", yanchor="middle", font=dict(family=SERIF, size=82, color="black")),
        dict(text=f"<b>{titles[i]}</b>", x=fx(cx), y=fy(T - 32), xref="paper", yref="paper", showarrow=False,
             xanchor="center", yanchor="middle", font=dict(family=SERIF, size=37, color="black")),
        dict(text="<b>Measured\u00a0 Values</b>", x=fx(cx), y=fy(B + 61), xref="paper", yref="paper", showarrow=False,
             xanchor="center", yanchor="middle", font=dict(family=SERIF, size=36, color="black")),
        dict(text="<b>Predicted\u00a0 Values</b>", x=fx(L - 92), y=fy((T + B) / 2), xref="paper", yref="paper",
             showarrow=False, textangle=-90, xanchor="center", yanchor="middle",
             font=dict(family=SERIF, size=36, color="black")),
        dict(text=f"<b>Train (R²={r2_train[i]})</b>", x=fx(L + 680), y=fy(T + 716), xref="paper", yref="paper",
             showarrow=False, xanchor="left", yanchor="middle", font=dict(family=SERIF, size=31, color="black")),
        dict(text=f"<b>Test (R²={r2_test[i]})</b>", x=fx(L + 680), y=fy(T + 763), xref="paper", yref="paper",
             showarrow=False, xanchor="left", yanchor="middle", font=dict(family=SERIF, size=31, color="black")),
        dict(text="<b>Prediction Error</b>", x=fx((il + ir) / 2), y=fy(ib + 54), xref="paper", yref="paper",
             showarrow=False, xanchor="center", yanchor="middle", font=dict(family=SERIF, size=31, color="black")),
        dict(text="<b>PDF</b>", x=fx(ir + 60), y=fy((it + ib) / 2), xref="paper", yref="paper", showarrow=False,
             textangle=-90, xanchor="center", yanchor="middle", font=dict(family=SERIF, size=28, color="black")),
    ]

fig.update_layout(
    width=W, height=H, margin=dict(l=0, r=0, t=0, b=0),
    paper_bgcolor="white", plot_bgcolor="white",
    barmode="overlay", bargap=0,
    annotations=annotations,
    **layout_axes, **legends,
)

fig.write_html("out.html")
